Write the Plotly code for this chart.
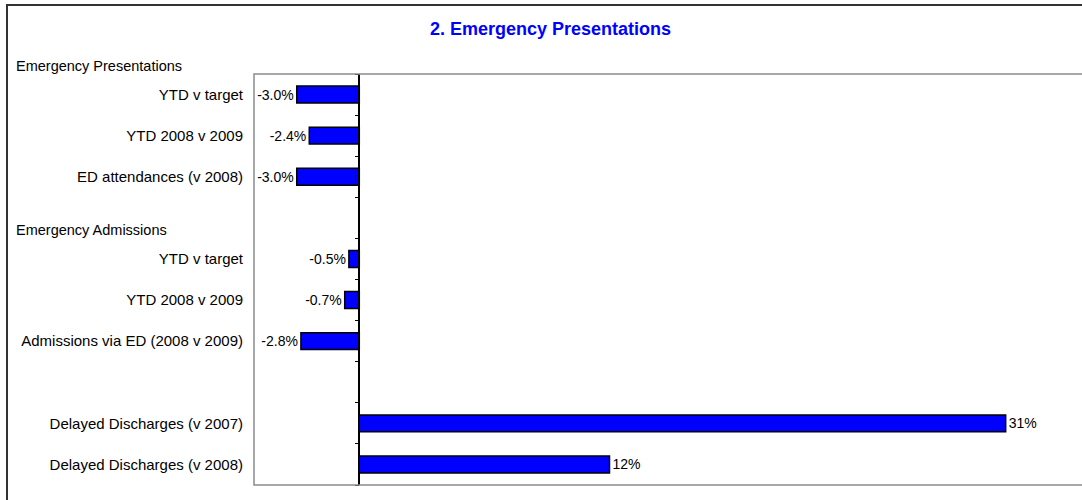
import plotly.graph_objects as go

# ---- data ----
group_names = ["Emergency Presentations", "Emergency Admissions", ""]
ep_labels = ["YTD v target", "YTD 2008 v 2009", "ED attendances (v 2008)"]
ep_values = [-3.0, -2.4, -3.0]
ea_labels = ["YTD v target", "YTD 2008 v 2009", "Admissions via ED (2008 v 2009)"]
ea_values = [-0.5, -0.7, -2.8]
dd_labels = ["Delayed Discharges (v 2007)", "Delayed Discharges (v 2008)"]
dd_values = [31, 12]
label_decimals = [1, 1, 0]
title_text = "2. Emergency Presentations"

groups = [(group_names[0], ep_labels, ep_values, label_decimals[0]),
          (group_names[1], ea_labels, ea_values, label_decimals[1]),
          (group_names[2], dd_labels, dd_values, label_decimals[2])]

# ---- layout constants (pixels) ----
W, H = 1082, 500
ML, MR, MT, MB = 254, 0, 74, 15
PW, PH = W - ML - MR, H - MT - MB
x_range = [-5.05, 34.66]
FONT = "Liberation Sans, Arial, Helvetica, sans-serif"

ys, labels, vals, texts, headers = [], [], [], [], []
pos = 0
for gi, (gname, labs, vs, dec) in enumerate(groups):
    if gi > 0:
        pos += 1  # blank row between groups
    if gname:
        headers.append((gname, pos))
    for lab, v in zip(labs, vs):
        ys.append(pos)
        labels.append(lab)
        vals.append(v)
        texts.append(f"{v:.{dec}f}%")
        pos += 1
n_rows = pos
y_range = [n_rows - 0.5, -0.5]

fig = go.Figure()
fig.add_trace(go.Bar(
    orientation="h", x=vals, y=ys, width=0.41,
    marker=dict(color="#0000ff", line=dict(color="#000000", width=1.5)),
    text=texts, textposition="outside", cliponaxis=False, constraintext="none",
    textfont=dict(family=FONT, size=14, color="#000000"),
    showlegend=False, hoverinfo="skip",
))
# invisible trace so the tick axis at zero is drawn
fig.add_trace(go.Scatter(x=[], y=[], yaxis="y2", showlegend=False, hoverinfo="skip"))

zero_frac = (0 - x_range[0]) / (x_range[1] - x_range[0])
boundaries = [i - 0.5 for i in range(n_rows + 1)]

def px_x(p):
    return (p - ML) / PW

def px_y(p):
    return (H - MB - p) / PH

annotations = []
for gname, first in headers:
    annotations.append(dict(
        text=gname, xref="paper", x=px_x(14), xanchor="left",
        yref="paper", y=1 - (first - 0.2) / n_rows, yanchor="middle", showarrow=False,
        font=dict(family=FONT, size=14.5, color="#000000"),
    ))

fig.update_layout(
    width=W, height=H,
    margin=dict(l=ML, r=MR, t=MT, b=MB, pad=0),
    paper_bgcolor="#ffffff", plot_bgcolor="#ffffff",
    title=dict(text=title_text, x=550.5 / W, xanchor="center", xref="container",
               y=1 - 29 / H, yanchor="middle",
               font=dict(family=FONT, size=18, color="#0000ff", weight="bold")),
    xaxis=dict(range=x_range, showgrid=False, zeroline=False, showticklabels=False,
               showline=False, ticks=""),
    yaxis=dict(range=y_range, tickmode="array", tickvals=ys, ticktext=labels,
               showgrid=False, zeroline=False, showline=False, ticks="",
               ticklabelstandoff=10,
               tickfont=dict(family=FONT, size=15, color="#000000")),
    yaxis2=dict(overlaying="y", anchor="free", position=zero_frac, side="left",
                range=y_range, tickmode="array", tickvals=boundaries,
                ticks="outside", ticklen=4, tickwidth=1, tickcolor="#000000",
                showticklabels=False, showline=True, linecolor="#000000", linewidth=1.5,
                showgrid=False, zeroline=False),
    annotations=annotations,
    shapes=[
        dict(type="rect", xref="paper", yref="paper", x0=0, x1=1.05, y0=0, y1=1,
             line=dict(color="#8c8c8c", width=1.5), layer="above"),
        dict(type="rect", xref="paper", yref="paper", x0=px_x(7), x1=1.1,
             y0=-0.2, y1=px_y(5), line=dict(color="#333333", width=2), layer="above"),
    ],
)

fig.write_html("out.html", config={"displayModeBar": False},
               post_script="document.body.style.margin='0px';")
